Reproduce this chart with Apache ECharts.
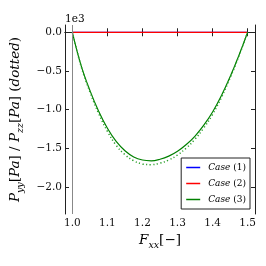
<!DOCTYPE html>
<html><head><meta charset="utf-8">
<script src="https://cdn.jsdelivr.net/npm/echarts@6/dist/echarts.min.js"></script>
<style>html,body{margin:0;padding:0;background:#fff}#c{width:266px;height:266px}</style>
</head><body><div id="c"></div>
<script>
const Fxx = [1.000,1.025,1.050,1.075,1.100,1.125,1.150,1.175,1.200,1.225,1.250,1.275,1.300,1.325,1.350,1.375,1.400,1.425,1.450,1.475,1.500];
const case1Pyy = [0,0,0,0,0,0,0,0,0,0,0,0,0,0,0,0,0,0,0,0,0];
const case2Pyy = [0,0,0,0,0,0,0,0,0,0,0,0,0,0,0,0,0,0,0,0,0];
const case3Pyy = [0,-430,-750,-1020,-1240,-1410,-1530,-1610,-1650,-1660,-1640,-1600,-1537,-1450,-1340,-1200,-1030,-820,-575,-300,0];
const case3Pzz = [0,-440,-770,-1050,-1280,-1460,-1580,-1660,-1700,-1710,-1690,-1650,-1585,-1495,-1380,-1235,-1060,-845,-590,-310,0];
const xTicks = [1.0,1.1,1.2,1.3,1.4,1.5];
const yTicks = [0,-500,-1000,-1500,-2000];
const legendNames = ['Case (1)','Case (2)','Case (3)'];

const FONT = 'DejaVu Serif';
const pair = a => Fxx.map((x,i)=>[x,a[i]]);
const chart = echarts.init(document.getElementById('c'), null, {renderer:'canvas'});
const axLine = {show:true, lineStyle:{color:'#222', width:1}};
const tick = (vals)=>({show:true, inside:true, length:4, customValues:vals, lineStyle:{color:'#222'}});
const sub = {fontFamily:FONT, fontSize:9.5, fontStyle:'italic', verticalAlign:'bottom', lineHeight:18, color:'#000'};
const it = {fontFamily:FONT, fontSize:13.5, fontStyle:'italic', color:'#000', lineHeight:20};
const nm = {fontFamily:FONT, fontSize:13.5, color:'#000', lineHeight:20};
chart.setOption({
  animation:false,
  grid:{left:65, right:11, top:25, bottom:52, containLabel:false},
  xAxis:[
    {type:'value', min:0.979, max:1.521, position:'bottom', splitLine:{show:false}, axisLine:axLine,
     axisTick:tick(xTicks),
     axisLabel:{customValues:xTicks, formatter:v=>v.toFixed(1), fontFamily:FONT, fontSize:10.5, color:'#111', margin:4},
     name:'{i|F}{s|xx}{n|[−]}', nameLocation:'middle', nameGap:16,
     nameTextStyle:{rich:{i:it, s:sub, n:nm}}},
    {type:'value', min:0.979, max:1.521, position:'top', splitLine:{show:false}, axisLine:axLine,
     axisTick:tick(xTicks), axisLabel:{show:false}}
  ],
  yAxis:[
    {type:'value', min:-2347, max:94, position:'left', splitLine:{show:false}, axisLine:axLine,
     axisTick:tick(yTicks),
     axisLabel:{customValues:yTicks, formatter:v=>(v/1000).toFixed(1).replace('-','−'), fontFamily:FONT, fontSize:10.5, color:'#111', margin:3},
     name:'{i|P}{s|yy}{n|[}{i|Pa}{n|] / }{i|P}{s|zz}{n|[}{i|Pa}{n|] (}{i|dotted}{n|)}',
     nameLocation:'middle', nameGap:36, nameRotate:90,
     nameTextStyle:{rich:{i:it, s:sub, n:nm}}},
    {type:'value', min:-2347, max:94, position:'right', splitLine:{show:false}, axisLine:axLine,
     axisTick:tick(yTicks), axisLabel:{show:false}}
  ],
  graphic:[{type:'text', left:65, top:14, style:{text:'1e3', font:'10.5px "DejaVu Serif"', fill:'#000'}}],
  legend:{data:legendNames, right:16, bottom:57, orient:'vertical', backgroundColor:'#fff',
    borderColor:'#222', borderWidth:1, borderRadius:0, padding:[5,4,5,5], itemGap:7,
    itemWidth:14, itemHeight:1.5, icon:'rect',
    formatter:n=>'{i|Case} '+n.slice(5),
    textStyle:{fontFamily:FONT, fontSize:9, color:'#000', padding:[0,0,0,3], rich:{i:{fontFamily:FONT, fontSize:9, fontStyle:'italic', color:'#000'}}}},
  series:[
    {name:'Case (1)', type:'line', data:pair(case1Pyy), showSymbol:false, lineStyle:{color:'#0000ff', width:1.2}, itemStyle:{color:'#0000ff'},
     markLine:{silent:true, symbol:'none', label:{show:false}, lineStyle:{color:'#888', width:1, type:'solid'}, data:[{xAxis:1.0}]}, z:1},
    {name:'Case (2)', type:'line', data:pair(case2Pyy), showSymbol:false, lineStyle:{color:'#ff0000', width:1.2}, itemStyle:{color:'#ff0000'}, z:2},
    {name:'Case (3)', type:'line', data:pair(case3Pyy), showSymbol:false, smooth:0.4, lineStyle:{color:'#008000', width:1.2}, itemStyle:{color:'#008000'}, z:3},
    {name:'Case (3) Pzz', type:'line', data:pair(case3Pzz), showSymbol:false, smooth:0.4, lineStyle:{color:'#2ca02c', width:1.5, type:[1.2,2.4]}, itemStyle:{color:'#008000'}, z:3}
  ]
});
</script></body></html>
